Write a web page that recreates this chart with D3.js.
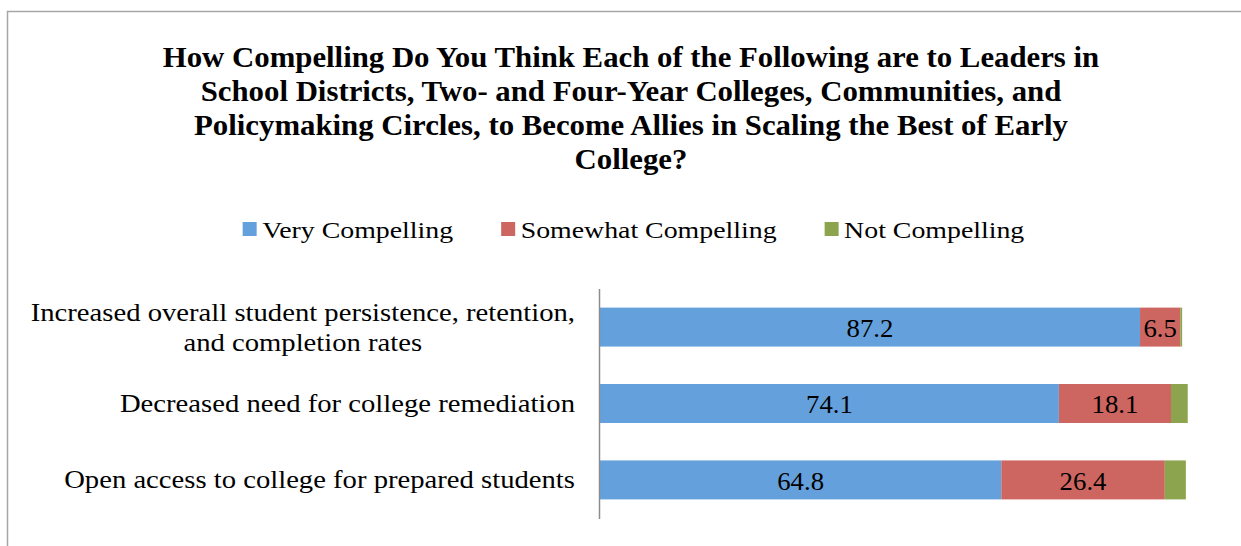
<!DOCTYPE html>
<html>
<head>
<meta charset="utf-8">
<script src="https://cdn.jsdelivr.net/npm/d3@7"></script>
<style>
  html, body { margin: 0; padding: 0; background: #fff; }
  svg { display: block; }
  text { font-family: "Liberation Serif", "Times New Roman", serif; fill: #000; }
</style>
</head>
<body>
<svg id="chart" width="1241" height="546"></svg>
<script>
// Survey items (one per bar row, top to bottom)
const categories = [
  ["Increased overall student persistence, retention,", "and completion rates"],
  ["Decreased need for college remediation"],
  ["Open access to college for prepared students"]
];
const seriesNames = ["Very Compelling", "Somewhat Compelling", "Not Compelling"];
const veryCompelling = [87.2, 74.1, 64.8];
const somewhatCompelling = [6.5, 18.1, 26.4];
const notCompelling = [0.3, 2.7, 3.4];
const titleLines = [
  "How Compelling Do You Think Each of the Following are to Leaders in",
  "School Districts, Two- and Four-Year Colleges, Communities, and",
  "Policymaking Circles, to Become Allies in Scaling the Best of Early",
  "College?"
];
const colors = ["#64a0dc", "#cd6660", "#8ca44d"];

const svg = d3.select("#chart");

// stretch the serif glyphs horizontally about their anchor point,
// so the face sets as wide as a Cambria-style text; the set width is kept in __w
function widen(sel, k) {
  sel.each(function () {
    const w = this.getComputedTextLength();
    const ax = +this.getAttribute("x") || 0;
    this.__w = w * k;
    d3.select(this).attr("transform", `translate(${ax},0) scale(${k},1) translate(${-ax},0)`);
  });
}

// outer chart frame (runs off the right and bottom edges)
svg.append("rect")
  .attr("x", 7.5).attr("y", 11.5)
  .attr("width", 1260).attr("height", 560)
  .attr("fill", "#fff").attr("stroke", "#a6a6a6").attr("stroke-width", 1.5);

// title
svg.append("g").selectAll("text").data(titleLines).join("text")
  .attr("x", 631).attr("y", (d, i) => 67 + i * 34)
  .attr("text-anchor", "middle")
  .attr("font-weight", "bold")
  .attr("font-size", 28.5)
  .text(d => d)
  .call(widen, 1.08);

// rows data
const rows = categories.map((c, i) => ({
  key: i,
  "Very Compelling": veryCompelling[i],
  "Somewhat Compelling": somewhatCompelling[i],
  "Not Compelling": notCompelling[i]
}));

const x = d3.scaleLinear().domain([0, 100]).range([600, 1219.3]);
const y = d3.scaleBand().domain(rows.map(r => r.key)).range([288.5, 518.5])
  .paddingInner(0.49).paddingOuter(0.25);
const color = d3.scaleOrdinal().domain(seriesNames).range(colors);

const stacked = d3.stack().keys(seriesNames)(rows);

const layers = svg.append("g").selectAll("g").data(stacked).join("g")
  .attr("fill", d => color(d.key));

layers.selectAll("rect").data(d => d).join("rect")
  .attr("x", d => x(d[0]))
  .attr("y", d => y(d.data.key))
  .attr("width", d => x(d[1]) - x(d[0]))
  .attr("height", y.bandwidth());

// value labels on the first two segments
svg.append("g").selectAll("g").data(stacked.slice(0, 2)).join("g")
  .selectAll("text").data(d => d).join("text")
  .attr("x", d => (x(d[0]) + x(d[1])) / 2)
  .attr("y", d => y(d.data.key) + y.bandwidth() / 2)
  .attr("dy", "0.38em")
  .attr("text-anchor", "middle")
  .attr("font-size", 26)
  .text(d => d3.format(".1f")(d[1] - d[0]))
  .call(widen, 1.03);

// vertical category axis line
const axis = svg.append("g").attr("transform", "translate(599,0)")
  .call(d3.axisLeft(y).tickSize(0).tickSizeOuter(0).tickFormat(""));
axis.select(".domain").attr("stroke", "#8c8c8c").attr("stroke-width", 1.5);

// category labels: right-aligned at the axis, wrapped lines centred on the bar
const lineH = 30;
const labelRight = 575;
const labelLines = categories.flatMap((lines, i) => {
  const cy = y(i) + y.bandwidth() / 2;
  const y0 = cy - (lines.length - 1) * lineH / 2;
  return lines.map((ln, j) => ({ text: ln, row: i, line: j, y: y0 + j * lineH }));
});
const labels = svg.append("g").selectAll("text").data(labelLines).join("text")
  .attr("font-size", 24.5)
  .attr("y", d => d.y)
  .attr("dy", "0.35em")
  .text(d => d.text);
// first lines end at the axis gap; continuation lines sit centred under them
labels.filter(d => d.line === 0)
  .attr("x", labelRight).attr("text-anchor", "end")
  .call(widen, 1.17);
const firstWidth = {};
labels.filter(d => d.line === 0).each(function (d) { firstWidth[d.row] = this.__w; });
labels.filter(d => d.line > 0)
  .attr("text-anchor", "middle")
  .attr("x", d => labelRight - firstWidth[d.row] / 2)
  .call(widen, 1.17);

// legend, laid out left to right and centred above the plot
const swatch = 14, swGap = 5.5, itemGap = 48;
const legend = svg.append("g");
const items = legend.selectAll("g").data(seriesNames).join("g");
items.append("rect").attr("width", swatch).attr("height", swatch).attr("y", 222)
  .attr("fill", d => color(d));
items.append("text").attr("x", swatch + swGap).attr("y", 238.5)
  .attr("font-size", 24).text(d => d)
  .call(widen, 1.16);
let cx = 0;
items.each(function () {
  const tw = d3.select(this).select("text").node().__w;
  d3.select(this).attr("transform", `translate(${cx},0)`);
  cx += swatch + swGap + tw + itemGap;
});
const legendW = cx - itemGap;
legend.attr("transform", `translate(${633.5 - legendW / 2},0)`);
</script>
</body>
</html>
